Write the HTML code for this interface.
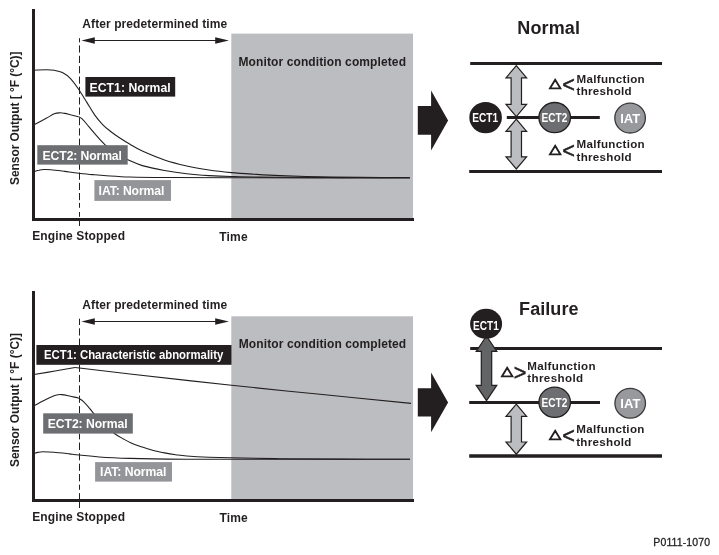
<!DOCTYPE html>
<html><head><meta charset="utf-8">
<title>P0111-1070</title>
<style>
html,body{margin:0;padding:0;background:#fff;}
svg{display:block;will-change:transform;}
text{font-family:"Liberation Sans",sans-serif;fill:#231f20;}
.b{font-weight:bold;}
</style></head>
<body>
<svg width="719" height="555" viewBox="0 0 719 555">
<rect width="719" height="555" fill="#fff"/>

<g id="top">
<rect x="231.3" y="33.6" width="181.7" height="185" fill="#bcbdc0"/>
<g fill="none" stroke="#231f20" stroke-width="1.1">
<path d="M34.0,70.2 C36.0,70.1 42.8,69.8 46.2,69.8 C49.6,69.8 51.6,69.8 54.3,70.3 C57.0,70.8 59.7,71.2 62.4,72.6 C65.1,74.0 67.8,75.8 70.5,78.6 C73.2,81.4 75.9,85.3 78.6,89.2 C81.3,93.1 84.0,97.8 86.7,102.1 C89.4,106.4 92.1,111.3 94.8,115.1 C97.5,118.9 100.2,122.0 102.9,124.8 C105.6,127.6 108.3,129.6 111.0,131.7 C113.7,133.8 115.9,135.4 119.1,137.5 C122.3,139.6 126.1,142.0 130.0,144.3 C133.9,146.6 136.6,148.5 142.3,151.1 C148.1,153.7 157.1,157.5 164.5,160.0 C171.9,162.5 179.4,164.3 186.8,166.0 C194.2,167.7 201.6,168.9 209.0,170.0 C216.4,171.1 223.9,171.9 231.3,172.6 C238.7,173.3 245.4,173.7 253.5,174.2 C261.6,174.7 268.9,175.2 280.0,175.6 C291.1,176.0 306.7,176.5 320.0,176.8 C333.3,177.1 345.0,177.2 360.0,177.4 C375.0,177.6 401.7,177.7 410.0,177.8"/>
<path d="M34.0,124.8 C36.0,123.7 42.8,120.1 46.2,118.3 C49.6,116.5 52.0,114.7 54.3,113.8 C56.6,112.9 58.2,112.9 60.0,112.8 C61.8,112.7 63.2,113.1 65.0,113.4 C66.8,113.7 68.2,114.2 70.5,114.8 C72.8,115.3 77.2,116.4 78.6,116.7"/>
<path d="M78.6,116.7 C79.1,117.0 80.6,117.5 81.9,118.7 C83.2,119.9 84.6,121.5 86.7,124.0 C88.8,126.5 91.8,130.3 94.8,133.7 C97.8,137.1 101.1,141.0 104.6,144.3 C108.1,147.6 112.0,150.9 116.0,153.5 C120.0,156.1 124.1,158.0 128.5,160.0 C132.9,162.0 136.3,163.8 142.3,165.6 C148.3,167.3 157.1,169.1 164.5,170.5 C171.9,171.9 179.4,173.0 186.8,173.8 C194.2,174.7 201.6,175.2 209.0,175.6 C216.4,176.0 223.9,176.3 231.3,176.5 C238.7,176.7 245.4,176.9 253.5,177.0 C261.6,177.1 265.6,177.2 280.0,177.3 C294.4,177.4 318.3,177.5 340.0,177.6 C361.7,177.7 398.3,177.8 410.0,177.8"/>
<path d="M34.0,171.6 C34.8,171.4 37.4,170.5 39.0,170.2 C40.6,169.8 41.9,169.6 43.9,169.5 C45.9,169.4 47.4,169.4 50.9,169.7 C54.4,170.0 60.2,170.8 64.8,171.4 C69.4,172.0 74.1,172.7 78.7,173.2 C83.3,173.7 88.0,174.2 92.6,174.6 C97.2,175.0 100.3,175.3 106.5,175.7 C112.7,176.1 120.3,176.7 130.0,177.0 C139.7,177.3 147.7,177.4 164.5,177.5 C181.3,177.6 190.1,177.8 231.0,177.8 C271.9,177.9 380.2,177.8 410.0,177.8"/>
</g>
<path d="M33.5,9 L33.5,219.5 L414,219.5" fill="none" stroke="#231f20" stroke-width="3" stroke-linejoin="miter"/>
<path d="M79.5,38.2 V42.3 M79.5,45.4 V52.6 M79.5,55.8 V63.0 M79.5,66.1 V73.3 M79.5,76.5 V83.7 M79.5,86.8 V94.0 M79.5,97.3 V104.5 M79.5,107.5 V114.7 M79.5,118.0 V125.2 M79.5,128.3 V135.5 M79.5,138.7 V145.7 M79.5,164.0 V169.8 M79.5,172.5 V179.8 M79.5,182.8 V190.0 M79.5,193.0 V200.2 M79.5,202.9 V207.8 M79.5,212.0 V216.8 M79.5,221.0 V226.0" fill="none" stroke="#231f20" stroke-width="1"/>
<line x1="90" y1="40.5" x2="220" y2="40.5" stroke="#231f20" stroke-width="1.1"/>
<path d="M81.4,40.5 L94.8,37.3 L94.8,43.7 Z M228.9,40.5 L215.2,37.3 L215.2,43.7 Z" fill="#231f20"/>
<text class="b" x="82.3" y="28" font-size="12" textLength="144.8" lengthAdjust="spacing">After predetermined time</text>
<text class="b" x="238.5" y="66" font-size="12" textLength="167.5" lengthAdjust="spacing">Monitor condition completed</text>
<rect x="85.4" y="77" width="89.8" height="19.6" fill="#231f20"/>
<text class="b" x="89.6" y="92.3" font-size="12.2" textLength="81" lengthAdjust="spacing" style="fill:#fff">ECT1: Normal</text>
<rect x="37.3" y="145.2" width="90.4" height="19.4" fill="#6d6e71"/>
<text class="b" x="42.6" y="160.1" font-size="12.2" textLength="79.3" lengthAdjust="spacing" style="fill:#fff">ECT2: Normal</text>
<rect x="94.4" y="180.1" width="76.6" height="20.8" fill="#939598"/>
<text class="b" x="98.6" y="195" font-size="12.2" textLength="65.8" lengthAdjust="spacing" style="fill:#fff">IAT: Normal</text>
<text class="b" x="32.2" y="240" font-size="12" textLength="92.8" lengthAdjust="spacing">Engine Stopped</text>
<text class="b" x="219.3" y="241" font-size="12" textLength="28.3" lengthAdjust="spacing">Time</text>
<text class="b" transform="translate(19,185) rotate(-90)" font-size="12" textLength="133.5">Sensor Output [ °F (°C)]</text>
</g>
<path d="M417.8,106.1 L431.1,106.1 L431.1,90.4 L448.1,120.4 L431.1,150.4 L431.1,134.8 L417.8,134.8 Z" fill="#231f20"/>
<g id="normal">
<text class="b" x="517.3" y="34" font-size="18" textLength="62.6" lengthAdjust="spacing">Normal</text>
<line x1="470.2" y1="63.5" x2="662" y2="63.5" stroke="#231f20" stroke-width="3"/>
<line x1="469.2" y1="171.5" x2="662" y2="171.5" stroke="#231f20" stroke-width="3"/>
<line x1="506.8" y1="117.5" x2="599.8" y2="117.5" stroke="#231f20" stroke-width="3"/>
<path d="M516.3,65.6 L526.6,77.8 L521.5,77.8 L521.5,104.4 L526.6,104.4 L516.3,116.6 L506.0,104.4 L511.1,104.4 L511.1,77.8 L506.0,77.8 Z" fill="#bcbdc0" stroke="#231f20" stroke-width="1.2" stroke-linejoin="miter"/>
<path d="M516.3,119.2 L526.6,131.4 L521.5,131.4 L521.5,156.8 L526.6,156.8 L516.3,169.0 L506.0,156.8 L511.1,156.8 L511.1,131.4 L506.0,131.4 Z" fill="#bcbdc0" stroke="#231f20" stroke-width="1.2" stroke-linejoin="miter"/>
<ellipse cx="485.6" cy="117.6" rx="16.3" ry="15.6" fill="#231f20"/>
<text class="b" x="472.3" y="122.4" font-size="13.2" textLength="25.8" lengthAdjust="spacingAndGlyphs" style="fill:#fff">ECT1</text>
<ellipse cx="554.7" cy="117.6" rx="15.8" ry="15.1" fill="#6d6e71" stroke="#231f20" stroke-width="1.3"/>
<text class="b" x="541.6" y="122.4" font-size="13.2" textLength="25.8" lengthAdjust="spacingAndGlyphs" style="fill:#fff">ECT2</text>
<ellipse cx="630.1" cy="118.1" rx="15.3" ry="14.9" fill="#97999c" stroke="#3a3a3c" stroke-width="1.3"/>
<text class="b" x="620.2" y="123" font-size="13" textLength="20.1" lengthAdjust="spacing" style="fill:#fff">IAT</text>
<text font-size="12.53" transform="translate(549.35,87.30) scale(1.234,1)" style="font-family:'DejaVu Sans',sans-serif;stroke:#231f20;stroke-width:0.95px;stroke-linejoin:miter">△</text>
<text font-size="21.5" transform="translate(562.27,92.34) scale(1.006,1)" style="stroke:#231f20;stroke-width:0.5px">&lt;</text>
<text class="b" x="576.5" y="83.2" font-size="11.6" textLength="68.2" lengthAdjust="spacing">Malfunction</text>
<text class="b" x="576.5" y="94.8" font-size="11.6" textLength="55.2" lengthAdjust="spacing">threshold</text>
<text font-size="12.53" transform="translate(549.35,152.50) scale(1.234,1)" style="font-family:'DejaVu Sans',sans-serif;stroke:#231f20;stroke-width:0.95px;stroke-linejoin:miter">△</text>
<text font-size="21.5" transform="translate(562.27,157.59) scale(1.006,1)" style="stroke:#231f20;stroke-width:0.5px">&lt;</text>
<text class="b" x="576.5" y="148.4" font-size="11.6" textLength="68.2" lengthAdjust="spacing">Malfunction</text>
<text class="b" x="576.5" y="160.8" font-size="11.6" textLength="55.2" lengthAdjust="spacing">threshold</text>
</g>
<g id="bottom">
<rect x="231.3" y="316.3" width="181.7" height="183.5" fill="#bcbdc0"/>
<g fill="none" stroke="#231f20" stroke-width="1.1">
<path d="M34.0,374.5 C37.5,373.9 48.1,372.2 55.0,371.0 C61.9,369.8 71.8,368.1 75.1,367.5"/>
<path d="M75.1,367.5 C84.2,368.6 103.9,371.0 130.0,374.0 C156.1,377.0 199.8,381.9 231.5,385.3 C263.2,388.7 290.1,391.3 320.0,394.3 C349.9,397.3 395.8,401.9 411.0,403.4"/>
<path d="M34.0,405.8 C36.0,404.8 42.2,401.4 45.8,399.6 C49.4,397.8 53.1,396.0 55.7,395.2 C58.4,394.4 59.4,394.5 61.7,394.6 C64.0,394.7 66.8,395.4 69.6,396.0 C72.4,396.6 77.0,397.7 78.5,398.0"/>
<path d="M78.5,398.0 C79.3,398.6 81.7,399.9 83.5,401.6 C85.3,403.3 87.8,406.2 89.4,408.1 C91.1,410.0 91.0,410.4 93.4,413.1 C95.8,415.8 100.4,421.1 104.0,424.5 C107.6,427.9 111.6,431.3 114.8,433.7 C118.0,436.1 120.4,437.3 123.1,438.8 C125.8,440.3 127.9,441.5 131.1,442.9 C134.3,444.3 138.6,445.8 142.3,447.1 C146.0,448.4 149.7,449.5 153.4,450.5 C157.1,451.5 160.8,452.2 164.5,452.9 C168.2,453.6 171.9,454.2 175.6,454.7 C179.3,455.2 181.2,455.6 186.8,456.0 C192.4,456.4 201.6,456.9 209.0,457.2 C216.4,457.5 219.5,457.6 231.3,457.8 C243.1,458.1 261.9,458.5 280.0,458.7 C298.1,458.9 318.3,459.0 340.0,459.1 C361.7,459.2 398.3,459.3 410.0,459.3"/>
<path d="M34.0,453.6 C34.7,453.4 36.5,452.7 38.0,452.4 C39.5,452.1 40.3,451.8 42.9,451.8 C45.5,451.8 49.3,451.9 53.8,452.2 C58.2,452.5 65.3,453.4 69.6,453.9 C73.9,454.4 74.5,454.5 79.5,455.0 C84.5,455.5 90.9,456.4 99.3,457.0 C107.7,457.6 115.4,458.0 130.0,458.4 C144.6,458.8 161.8,459.0 186.8,459.2 C211.8,459.4 242.8,459.3 280.0,459.3 C317.2,459.3 388.3,459.3 410.0,459.3"/>
</g>
<path d="M33.5,291 L33.5,500.5 L414,500.5" fill="none" stroke="#231f20" stroke-width="3" stroke-linejoin="miter"/>
<path d="M79.5,318.7 V325.0 M79.5,328.3 V335.5 M79.5,338.5 V345.3 M79.5,364.7 V371.9 M79.5,374.9 V382.1 M79.5,385.4 V392.6 M79.5,395.6 V402.8 M79.5,406.1 V413.3 M79.5,433.6 V439.4 M79.5,442.5 V450.0 M79.5,453.2 V460.3 M79.5,463.7 V470.8 M79.5,474.0 V481.3 M79.5,484.7 V489.8 M79.5,493.1 V508.0" fill="none" stroke="#231f20" stroke-width="1"/>
<line x1="90" y1="321.5" x2="220" y2="321.5" stroke="#231f20" stroke-width="1.1"/>
<path d="M81.4,321.5 L94.8,318.3 L94.8,324.7 Z M228.9,321.5 L215.2,318.3 L215.2,324.7 Z" fill="#231f20"/>
<text class="b" x="82.3" y="308.5" font-size="12" textLength="144.8" lengthAdjust="spacing">After predetermined time</text>
<text class="b" x="238.7" y="348" font-size="12" textLength="167.5" lengthAdjust="spacing">Monitor condition completed</text>
<rect x="36.4" y="345" width="195.1" height="19.8" fill="#231f20"/>
<text class="b" x="44" y="359" font-size="12.2" textLength="179.3" lengthAdjust="spacingAndGlyphs" style="fill:#fff">ECT1: Characteristic abnormality</text>
<rect x="43.2" y="413.3" width="89.6" height="20.3" fill="#6d6e71"/>
<text class="b" x="47.7" y="427.7" font-size="12.2" textLength="79.9" lengthAdjust="spacing" style="fill:#fff">ECT2: Normal</text>
<rect x="95.1" y="462.1" width="76.9" height="19.5" fill="#939598"/>
<text class="b" x="100.1" y="476.1" font-size="12.2" textLength="66.3" lengthAdjust="spacing" style="fill:#fff">IAT: Normal</text>
<text class="b" x="32.2" y="520.8" font-size="12" textLength="92.8" lengthAdjust="spacing">Engine Stopped</text>
<text class="b" x="219.5" y="522.3" font-size="12" textLength="28.3" lengthAdjust="spacing">Time</text>
<text class="b" transform="translate(19,467) rotate(-90)" font-size="12" textLength="134">Sensor Output [ °F (°C)]</text>
</g>
<path d="M417.8,388.3 L431.1,388.3 L431.1,372.6 L448.1,402.4 L431.1,432.2 L431.1,416.6 L417.8,416.6 Z" fill="#231f20"/>
<g id="failure">
<text class="b" x="519.1" y="315" font-size="18" textLength="59.4" lengthAdjust="spacing">Failure</text>
<line x1="470.2" y1="348.5" x2="662" y2="348.5" stroke="#231f20" stroke-width="3"/>
<line x1="469.2" y1="402.5" x2="600" y2="402.5" stroke="#231f20" stroke-width="3.2"/>
<line x1="469.2" y1="455.9" x2="662" y2="455.9" stroke="#231f20" stroke-width="3.5"/>
<path d="M486.5,336.0 L496.8,351.3 L491.7,351.3 L491.7,385.3 L496.8,385.3 L486.5,400.6 L476.2,385.3 L481.3,385.3 L481.3,351.3 L476.2,351.3 Z" fill="#636466" stroke="#231f20" stroke-width="1.2" stroke-linejoin="miter"/>
<path d="M516.3,404.2 L526.6,416.4 L521.5,416.4 L521.5,442.0 L526.6,442.0 L516.3,454.2 L506.0,442.0 L511.1,442.0 L511.1,416.4 L506.0,416.4 Z" fill="#bcbdc0" stroke="#231f20" stroke-width="1.2" stroke-linejoin="miter"/>
<ellipse cx="486.1" cy="323.8" rx="16" ry="15" fill="#231f20"/>
<text class="b" x="473" y="329.6" font-size="13.2" textLength="25.8" lengthAdjust="spacingAndGlyphs" style="fill:#fff">ECT1</text>
<ellipse cx="554.7" cy="402.3" rx="15.8" ry="15.1" fill="#6d6e71" stroke="#231f20" stroke-width="1.3"/>
<text class="b" x="541.6" y="407.2" font-size="13.2" textLength="25.8" lengthAdjust="spacingAndGlyphs" style="fill:#fff">ECT2</text>
<ellipse cx="630.2" cy="403.2" rx="15.3" ry="14.9" fill="#97999c" stroke="#3a3a3c" stroke-width="1.3"/>
<text class="b" x="620.3" y="408" font-size="13" textLength="20.1" lengthAdjust="spacing" style="fill:#fff">IAT</text>
<text font-size="12.53" transform="translate(501.15,375.00) scale(1.234,1)" style="font-family:'DejaVu Sans',sans-serif;stroke:#231f20;stroke-width:0.95px;stroke-linejoin:miter">△</text>
<text font-size="21.5" transform="translate(513.77,380.00) scale(1.006,1)" style="stroke:#231f20;stroke-width:0.5px">&gt;</text>
<text class="b" x="527.3" y="370.2" font-size="11.6" textLength="68.2" lengthAdjust="spacing">Malfunction</text>
<text class="b" x="527.3" y="382.1" font-size="11.6" textLength="55.8" lengthAdjust="spacing">threshold</text>
<text font-size="12.53" transform="translate(549.35,438.10) scale(1.234,1)" style="font-family:'DejaVu Sans',sans-serif;stroke:#231f20;stroke-width:0.95px;stroke-linejoin:miter">△</text>
<text font-size="21.5" transform="translate(562.27,443.10) scale(1.006,1)" style="stroke:#231f20;stroke-width:0.5px">&lt;</text>
<text class="b" x="576.2" y="433" font-size="11.6" textLength="68.2" lengthAdjust="spacing">Malfunction</text>
<text class="b" x="576.2" y="445.6" font-size="11.6" textLength="55.2" lengthAdjust="spacing">threshold</text>
</g>
<text x="653.3" y="545.7" font-size="10.5" textLength="56.8" lengthAdjust="spacing" stroke="#231f20" stroke-width="0.3">P0111-1070</text>
</svg>
</body></html>
